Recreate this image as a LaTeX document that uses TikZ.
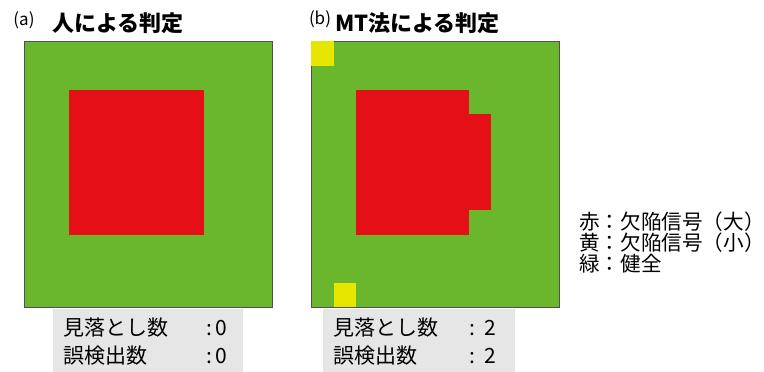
\documentclass[tikz,border=0pt]{standalone}
\usepackage{fontspec}
\setmainfont{Noto Sans CJK JP}
\newfontfamily\cjk{Noto Sans CJK JP}
\definecolor{fieldgreen}{HTML}{6AB72E}
\definecolor{defred}{HTML}{E50F16}
\definecolor{defyellow}{HTML}{E6E600}
\definecolor{boxgray}{HTML}{E6E6E6}
\definecolor{edgegray}{HTML}{505050}
\tikzset{
  field/.style={fill=fieldgreen, draw=edgegray, line width=0.8pt},
  bigdef/.style={fill=defred, draw=none},
  smalldef/.style={fill=defyellow, draw=none},
  countbox/.style={fill=boxgray, draw=none},
  paneltag/.style={inner sep=0pt, font=\fontsize{17}{20}\selectfont},
  paneltitle/.style={inner sep=0pt, anchor=west, font=\fontsize{22}{26}\selectfont\bfseries},
  cnt/.style={inner sep=0pt, anchor=west, font=\fontsize{21}{25}\selectfont},
  legend/.style={inner sep=0pt, anchor=west, font=\fontsize{20.6}{24}\selectfont}
}
\begin{document}
\begin{tikzpicture}[x=1pt,y=-1pt]
\useasboundingbox (0,0) rectangle (764,372);
% panel (a)
\node[paneltag] (taga) at (24,20) {(a)};
\node[paneltitle] (titlea) at (52,23) {人による判定};
\path[field] (24,41) rectangle (272,307);
\path[bigdef] (69,90) rectangle (204,235);
% panel (b)
\node[paneltag] (tagb) at (320,19) {(b)};
\node[paneltitle] (titleb) at (335,23) {MT法による判定};
\path[field] (311,41) rectangle (559,307);
\path[smalldef] (311.4,41.4) rectangle (334,66);
\path[bigdef] (356,90) rectangle (469,235);
\path[bigdef] (469,114) rectangle (491,210);
\path[smalldef] (334,283) rectangle (356,306.6);
% count boxes
\path[countbox] (53,308.5) rectangle (243,372);
\path[countbox] (323,308.5) rectangle (515,372);
\node[cnt] (missa) at (63,328) {見落とし数};
\node[cnt] (missav) at (206,328) {:\,0};
\node[cnt] (falsea) at (63,356) {誤検出数};
\node[cnt] (falseav) at (206,356) {:\,0};
\node[cnt] (missb) at (333,328) {見落とし数};
\node[cnt] (missbv) at (469,328) {:\ \ 2};
\node[cnt] (falseb) at (333,356) {誤検出数};
\node[cnt] (falsebv) at (469,356) {:\ \ 2};
% legend
\node[legend] (lgred) at (579,222) {赤：欠陥信号（大）};
\node[legend] (lgyel) at (579,243) {黄：欠陥信号（小）};
\node[legend] (lggrn) at (579,264) {緑：健全};
\end{tikzpicture}
\end{document}
